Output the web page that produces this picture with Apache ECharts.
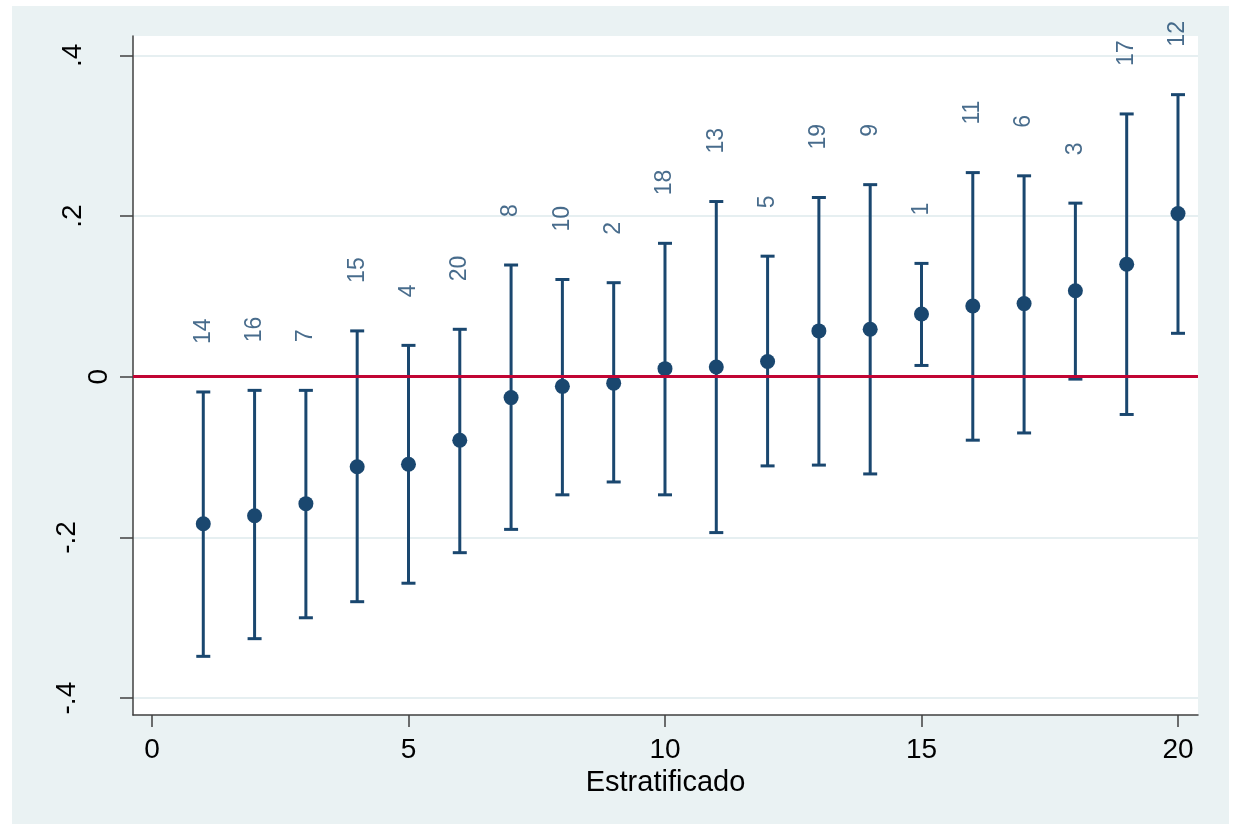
<!DOCTYPE html>
<html>
<head>
<meta charset="utf-8">
<script src="https://cdn.jsdelivr.net/npm/echarts@6/dist/echarts.min.js"></script>
<style>
  html, body { margin: 0; padding: 0; background: #fff; }
  #chart { position: absolute; left: 12px; top: 6px; width: 1217px; height: 818px; }
</style>
</head>
<body>
<div id="chart"></div>
<script>
// datos
var estratos = [1, 2, 3, 4, 5, 6, 7, 8, 9, 10, 11, 12, 13, 14, 15, 16, 17, 18, 19, 20];
var etiquetas = ['14', '16', '7', '15', '4', '20', '8', '10', '2', '18', '13', '5', '19', '9', '1', '11', '6', '3', '17', '12'];
var estimacion = [-0.183, -0.173, -0.158, -0.112, -0.109, -0.079, -0.026, -0.012, -0.008, 0.010,
                  0.012, 0.019, 0.057, 0.059, 0.078, 0.088, 0.091, 0.107, 0.140, 0.203];
var limiteInf = [-0.348, -0.326, -0.300, -0.280, -0.257, -0.219, -0.190, -0.147, -0.131, -0.147,
                 -0.194, -0.111, -0.110, -0.121, 0.014, -0.079, -0.070, -0.003, -0.047, 0.054];
var limiteSup = [-0.019, -0.017, -0.017, 0.057, 0.039, 0.059, 0.139, 0.121, 0.117, 0.166,
                 0.218, 0.150, 0.223, 0.239, 0.141, 0.254, 0.250, 0.216, 0.327, 0.351];
var xTicks = [0, 5, 10, 15, 20];
var yTicks = [-0.4, -0.2, 0, 0.2, 0.4];

var azul = '#1a476f';
var fuente = '"Liberation Sans", Arial, sans-serif';

// formato estilo Stata: .4, -.2, 0
function fmtY(v) {
  var s = String(Math.round(v * 10) / 10).replace('0.', '.');
  var k = v === 0 ? 'c' : (v < 0 ? 'n' : 'p');
  return '{' + k + '|' + s + '}';
}

var myChart = echarts.init(document.getElementById('chart'));
var option = {
  backgroundColor: '#eaf2f3',
  animation: false,
  textStyle: { fontFamily: fuente },
  grid: {
    left: 121, top: 30, width: 1065, height: 679,
    show: true, backgroundColor: '#fff', borderWidth: 0
  },
  xAxis: {
    type: 'value',
    min: -0.37, max: 20.39,
    name: 'Estratificado',
    nameLocation: 'middle',
    nameGap: 46,
    nameTextStyle: { fontSize: 29, color: '#000', fontFamily: fuente },
    axisLine: { show: true, onZero: false, lineStyle: { color: '#404040', width: 1.5 } },
    axisTick: { show: true, length: 12, customValues: xTicks, lineStyle: { color: '#404040', width: 1.5 } },
    axisLabel: { customValues: xTicks, fontSize: 28, color: '#000', margin: 21, fontFamily: fuente },
    splitLine: { show: false }
  },
  yAxis: {
    type: 'value',
    min: -0.421, max: 0.424,
    axisLine: { show: true, onZero: false, lineStyle: { color: '#404040', width: 1.5 } },
    axisTick: { show: true, length: 13, customValues: yTicks, lineStyle: { color: '#404040', width: 1.5 } },
    axisLabel: {
      customValues: yTicks,
      rotate: 90,
      margin: 20,
      fontSize: 28,
      color: '#000',
      fontFamily: fuente,
      formatter: fmtY,
      rich: {
        c: { fontSize: 28, color: '#000', fontFamily: fuente },
        p: { fontSize: 28, color: '#000', fontFamily: fuente, padding: [0, 0, 26, 0] },
        n: { fontSize: 28, color: '#000', fontFamily: fuente, padding: [0, 0, 32, 0] }
      }
    },
    splitLine: { show: true, lineStyle: { color: '#e6eff1', width: 2 } }
  },
  series: [
    {
      // etiquetas sobre el limite superior + linea en cero
      type: 'scatter',
      z: 1,
      symbolSize: 0,
      data: estratos.map(function (x, i) { return [x, limiteSup[i]]; }),
      label: {
        show: true,
        position: 'top',
        distance: 48,
        rotate: 90,
        align: 'left',
        verticalAlign: 'middle',
        fontSize: 23,
        color: azul,
        fontFamily: fuente,
        formatter: function (p) { return etiquetas[p.dataIndex]; }
      },
      markLine: {
        silent: true,
        symbol: ['none', 'none'],
        label: { show: false },
        lineStyle: { color: '#c10534', width: 3, type: 'solid' },
        data: [{ yAxis: 0 }]
      }
    },
    {
      type: 'custom',
      z: 2,
      data: estratos.map(function (x, i) { return [x, limiteInf[i], limiteSup[i]]; }),
      encode: { x: 0, y: [1, 2] },
      renderItem: function (params, api) {
        var x = api.value(0);
        var lo = api.coord([x, api.value(1)]);
        var hi = api.coord([x, api.value(2)]);
        var w = 7;
        var st = { stroke: azul, lineWidth: 3 };
        return {
          type: 'group',
          children: [
            { type: 'line', shape: { x1: hi[0], y1: hi[1], x2: lo[0], y2: lo[1] }, style: st },
            { type: 'line', shape: { x1: hi[0] - w, y1: hi[1], x2: hi[0] + w, y2: hi[1] }, style: st },
            { type: 'line', shape: { x1: lo[0] - w, y1: lo[1], x2: lo[0] + w, y2: lo[1] }, style: st }
          ]
        };
      }
    },
    {
      type: 'scatter',
      z: 3,
      symbol: 'circle',
      symbolSize: 15,
      itemStyle: { color: azul, opacity: 1 },
      data: estratos.map(function (x, i) { return [x, estimacion[i]]; })
    }
  ]
};
myChart.setOption(option);
</script>
</body>
</html>
